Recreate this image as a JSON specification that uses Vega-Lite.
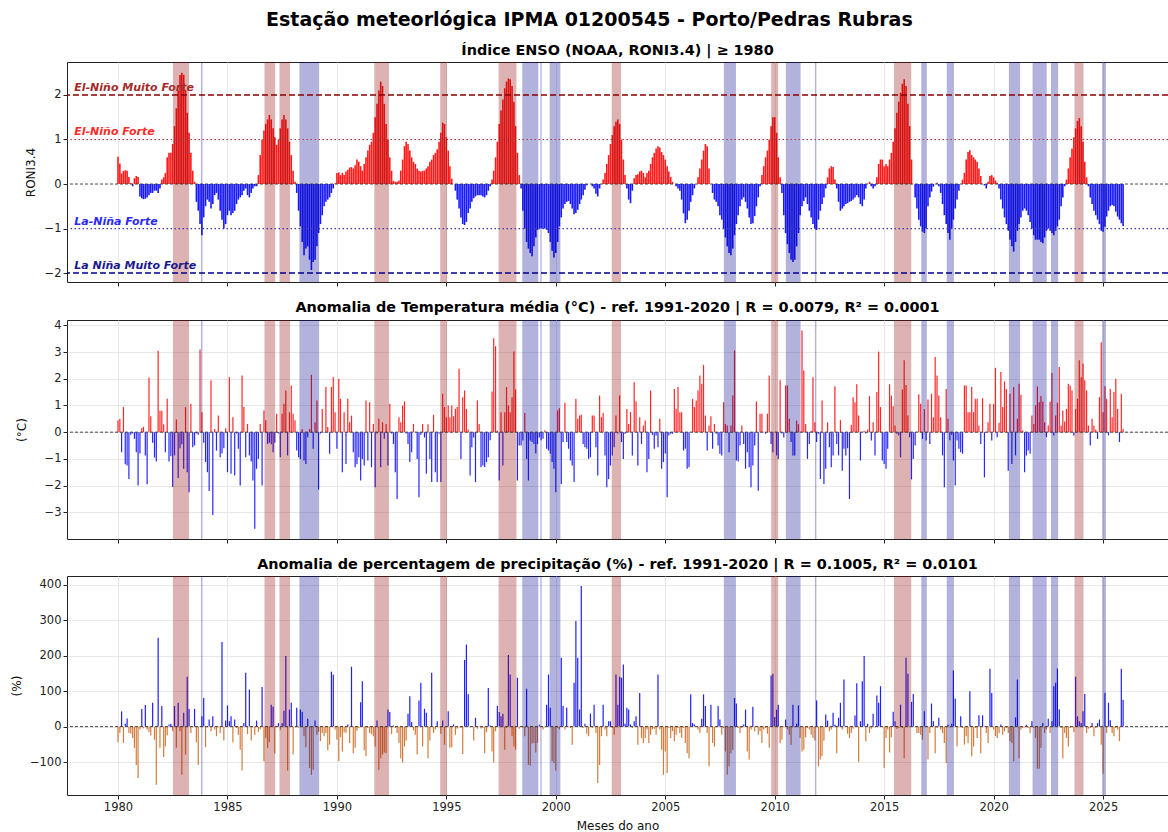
{
"$schema": "https://vega.github.io/schema/vega-lite/v6.json",
"padding": {"left": 9, "top": 11, "right": 0, "bottom": 0},
"background": "white",
"title": {"text": "Estação meteorlógica IPMA 01200545 - Porto/Pedras Rubras", "fontSize": 19, "fontWeight": "bold", "anchor": "middle", "offset": 12, "color": "#000000", "font": "DejaVu Sans"},
"config": {
  "font": "DejaVu Sans",
  "view": {"stroke": "#222222", "strokeWidth": 1},
  "axis": {"domain": false, "tickColor": "#222222", "tickSize": 4, "labelColor": "#222222", "labelFontSize": 11.5, "titleFontWeight": "normal", "titleColor": "#111111", "titleFontSize": 12, "gridColor": "#e2e2e2", "gridWidth": 0.8, "labelFont": "DejaVu Sans", "titleFont": "DejaVu Sans"},
  "title": {"fontSize": 14.4, "fontWeight": "bold", "color": "#000000", "offset": 4, "font": "DejaVu Sans"},
  "concat": {"spacing": 12}
},
"datasets": {
"b": [
{"s":"1982-07-05","f":"1983-04-01","k":"nino"},
{"s":"1983-10-17","f":"1983-11-10","k":"nina"},
{"s":"1986-09-10","f":"1987-03-08","k":"nino"},
{"s":"1987-05-18","f":"1987-11-10","k":"nino"},
{"s":"1988-04-15","f":"1989-03-10","k":"nina"},
{"s":"1991-09-17","f":"1992-05-18","k":"nino"},
{"s":"1994-09-20","f":"1995-01-12","k":"nino"},
{"s":"1997-05-22","f":"1998-03-15","k":"nino"},
{"s":"1998-06-20","f":"1999-03-15","k":"nina"},
{"s":"1999-04-17","f":"1999-05-10","k":"nina"},
{"s":"1999-09-20","f":"2000-03-18","k":"nina"},
{"s":"2002-07-22","f":"2002-12-25","k":"nino"},
{"s":"2007-09-05","f":"2008-03-25","k":"nina"},
{"s":"2009-11-03","f":"2010-02-28","k":"nino"},
{"s":"2010-07-05","f":"2011-03-08","k":"nina"},
{"s":"2011-11-03","f":"2011-11-27","k":"nina"},
{"s":"2015-06-13","f":"2016-03-28","k":"nino"},
{"s":"2016-09-12","f":"2016-12-13","k":"nina"},
{"s":"2017-11-10","f":"2018-03-10","k":"nina"},
{"s":"2020-09-12","f":"2021-03-18","k":"nina"},
{"s":"2021-10-12","f":"2022-06-05","k":"nina"},
{"s":"2022-08-15","f":"2022-12-13","k":"nina"},
{"s":"2023-09-12","f":"2024-02-10","k":"nino"},
{"s":"2024-12-16","f":"2025-02-17","k":"nina"}
],
"m": [
{"d":"1980-01","e":0.61,"t":0.45,"p":-44},{"d":"1980-02","e":0.46,"t":0.5,"p":-18},{"d":"1980-03","e":0.24,"t":-0.75,"p":43},{"d":"1980-04","e":0.29,"t":0.95,"p":-46},{"d":"1980-05","e":0.31,"t":-1.2,"p":8},{"d":"1980-06","e":0.3,"t":-1.25,"p":23},{"d":"1980-07","e":0.16,"t":-1.75,"p":-18},{"d":"1980-08","e":0.02,"t":-0.1,"p":-20},{"d":"1980-09","e":-0.05,"t":-0.05,"p":-32},{"d":"1980-10","e":0.13,"t":-0.25,"p":-60},{"d":"1980-11","e":0.18,"t":-0.75,"p":-108},{"d":"1980-12","e":0.16,"t":-2.0,"p":-145},
{"d":"1981-01","e":-0.28,"t":-0.8,"p":-8},{"d":"1981-02","e":-0.32,"t":0.15,"p":50},{"d":"1981-03","e":-0.34,"t":0.2,"p":-5},{"d":"1981-04","e":-0.33,"t":-0.87,"p":61},{"d":"1981-05","e":-0.3,"t":-1.95,"p":-8},{"d":"1981-06","e":-0.25,"t":2.05,"p":-15},{"d":"1981-07","e":-0.2,"t":0.6,"p":-25},{"d":"1981-08","e":-0.2,"t":-0.4,"p":67},{"d":"1981-09","e":-0.15,"t":-0.95,"p":-37},{"d":"1981-10","e":-0.15,"t":-1.1,"p":-164},{"d":"1981-11","e":-0.2,"t":3.05,"p":251},{"d":"1981-12","e":-0.1,"t":0.8,"p":-60},
{"d":"1982-01","e":0.1,"t":0.8,"p":58},{"d":"1982-02","e":0.15,"t":0.3,"p":-86},{"d":"1982-03","e":0.25,"t":-0.75,"p":-56},{"d":"1982-04","e":0.6,"t":1.25,"p":-25},{"d":"1982-05","e":0.7,"t":-1.1,"p":6},{"d":"1982-06","e":0.7,"t":-0.9,"p":8},{"d":"1982-07","e":0.9,"t":-2.05,"p":-13},{"d":"1982-08","e":1.3,"t":-0.87,"p":58},{"d":"1982-09","e":1.7,"t":0.47,"p":-60},{"d":"1982-10","e":2.1,"t":-1.72,"p":67},{"d":"1982-11","e":2.45,"t":-0.6,"p":-13},{"d":"1982-12","e":2.5,"t":-0.45,"p":-136},
{"d":"1983-01","e":2.45,"t":-1.37,"p":39},{"d":"1983-02","e":2.1,"t":0.94,"p":-79},{"d":"1983-03","e":1.6,"t":-1.5,"p":141},{"d":"1983-04","e":1.15,"t":-2.25,"p":50},{"d":"1983-05","e":0.7,"t":1.06,"p":-18},{"d":"1983-06","e":0.3,"t":-0.56,"p":-2},{"d":"1983-07","e":0.05,"t":-0.5,"p":50},{"d":"1983-08","e":-0.4,"t":-0.05,"p":-44},{"d":"1983-09","e":-0.6,"t":-0.1,"p":-108},{"d":"1983-10","e":-0.9,"t":3.1,"p":2},{"d":"1983-11","e":-1.15,"t":0.75,"p":29},{"d":"1983-12","e":-0.75,"t":-0.4,"p":81},
{"d":"1984-01","e":-0.5,"t":-1.12,"p":-58},{"d":"1984-02","e":-0.35,"t":-1.5,"p":-2},{"d":"1984-03","e":-0.4,"t":-2.2,"p":20},{"d":"1984-04","e":-0.55,"t":1.94,"p":-13},{"d":"1984-05","e":-0.45,"t":-3.1,"p":29},{"d":"1984-06","e":-0.25,"t":0.12,"p":-8},{"d":"1984-07","e":-0.2,"t":-0.69,"p":-27},{"d":"1984-08","e":-0.35,"t":0.62,"p":-2},{"d":"1984-09","e":-0.6,"t":-0.94,"p":-18},{"d":"1984-10","e":-0.8,"t":-0.8,"p":239},{"d":"1984-11","e":-1.0,"t":-0.6,"p":-39},{"d":"1984-12","e":-0.9,"t":0.15,"p":17},
{"d":"1985-01","e":-0.7,"t":-1.5,"p":60},{"d":"1985-02","e":-0.6,"t":2.06,"p":15},{"d":"1985-03","e":-0.7,"t":-1.56,"p":29},{"d":"1985-04","e":-0.65,"t":0.56,"p":-44},{"d":"1985-05","e":-0.6,"t":-1.62,"p":20},{"d":"1985-06","e":-0.45,"t":-0.05,"p":-4},{"d":"1985-07","e":-0.35,"t":-0.62,"p":-23},{"d":"1985-08","e":-0.3,"t":-2.0,"p":-65},{"d":"1985-09","e":-0.25,"t":2.12,"p":-124},{"d":"1985-10","e":-0.15,"t":0.94,"p":10},{"d":"1985-11","e":-0.1,"t":-0.94,"p":152},{"d":"1985-12","e":-0.25,"t":0.31,"p":-21},
{"d":"1986-01","e":-0.3,"t":-0.87,"p":105},{"d":"1986-02","e":-0.2,"t":-1.1,"p":-39},{"d":"1986-03","e":-0.1,"t":-1.81,"p":-2},{"d":"1986-04","e":-0.05,"t":-3.62,"p":-23},{"d":"1986-05","e":-0.05,"t":-1.37,"p":17},{"d":"1986-06","e":0.2,"t":-1.0,"p":-15},{"d":"1986-07","e":0.65,"t":0.31,"p":-8},{"d":"1986-08","e":1.0,"t":-2.0,"p":112},{"d":"1986-09","e":1.2,"t":0.81,"p":-98},{"d":"1986-10","e":1.35,"t":0.45,"p":-32},{"d":"1986-11","e":1.45,"t":-0.44,"p":-60},{"d":"1986-12","e":1.55,"t":-0.4,"p":-44},
{"d":"1987-01","e":1.45,"t":-0.45,"p":62},{"d":"1987-02","e":1.25,"t":-0.75,"p":56},{"d":"1987-03","e":1.05,"t":-0.4,"p":-76},{"d":"1987-04","e":0.88,"t":0.69,"p":-2},{"d":"1987-05","e":1.0,"t":-0.05,"p":10},{"d":"1987-06","e":1.25,"t":-0.94,"p":-10},{"d":"1987-07","e":1.45,"t":0.69,"p":10},{"d":"1987-08","e":1.55,"t":1.06,"p":45},{"d":"1987-09","e":1.45,"t":1.56,"p":199},{"d":"1987-10","e":1.25,"t":-0.87,"p":-124},{"d":"1987-11","e":0.95,"t":0.75,"p":48},{"d":"1987-12","e":0.65,"t":1.75,"p":67},
{"d":"1988-01","e":0.3,"t":0.69,"p":-79},{"d":"1988-02","e":0.05,"t":0.45,"p":-2},{"d":"1988-03","e":-0.2,"t":-0.69,"p":53},{"d":"1988-04","e":-0.6,"t":-0.94,"p":-3},{"d":"1988-05","e":-0.95,"t":-1.0,"p":48},{"d":"1988-06","e":-1.3,"t":0.12,"p":42},{"d":"1988-07","e":-1.6,"t":-1.06,"p":-27},{"d":"1988-08","e":-1.45,"t":-1.19,"p":-58},{"d":"1988-09","e":-1.4,"t":-0.19,"p":22},{"d":"1988-10","e":-1.7,"t":0.12,"p":-117},{"d":"1988-11","e":-1.93,"t":2.15,"p":-136},{"d":"1988-12","e":-1.75,"t":-0.62,"p":-122},
{"d":"1989-01","e":-1.7,"t":0.37,"p":17},{"d":"1989-02","e":-1.4,"t":1.19,"p":-23},{"d":"1989-03","e":-1.1,"t":-2.15,"p":-15},{"d":"1989-04","e":-0.9,"t":-0.05,"p":-41},{"d":"1989-05","e":-0.7,"t":0.87,"p":-18},{"d":"1989-06","e":-0.5,"t":-0.02,"p":-27},{"d":"1989-07","e":-0.4,"t":1.69,"p":-18},{"d":"1989-08","e":-0.35,"t":0.19,"p":-67},{"d":"1989-09","e":-0.3,"t":-0.81,"p":-51},{"d":"1989-10","e":-0.2,"t":1.69,"p":155},{"d":"1989-11","e":-0.1,"t":2.06,"p":147},{"d":"1989-12","e":0.02,"t":0.75,"p":-8},
{"d":"1990-01","e":0.25,"t":-0.62,"p":-37},{"d":"1990-02","e":0.26,"t":2.0,"p":-98},{"d":"1990-03","e":0.2,"t":1.25,"p":-30},{"d":"1990-04","e":0.25,"t":-1.5,"p":-70},{"d":"1990-05","e":0.2,"t":0.75,"p":-16},{"d":"1990-06","e":0.28,"t":-1.19,"p":-18},{"d":"1990-07","e":0.32,"t":1.25,"p":6},{"d":"1990-08","e":0.37,"t":0.37,"p":-46},{"d":"1990-09","e":0.38,"t":0.62,"p":169},{"d":"1990-10","e":0.35,"t":-0.75,"p":-75},{"d":"1990-11","e":0.42,"t":-1.31,"p":-60},{"d":"1990-12","e":0.55,"t":-1.2,"p":-12},
{"d":"1991-01","e":0.5,"t":-0.94,"p":-4},{"d":"1991-02","e":0.4,"t":-1.81,"p":69},{"d":"1991-03","e":0.3,"t":-1.0,"p":128},{"d":"1991-04","e":0.45,"t":-1.25,"p":-67},{"d":"1991-05","e":0.6,"t":1.19,"p":-84},{"d":"1991-06","e":0.75,"t":-1.06,"p":-4},{"d":"1991-07","e":0.88,"t":1.12,"p":-18},{"d":"1991-08","e":0.95,"t":-1.31,"p":-21},{"d":"1991-09","e":1.15,"t":0.31,"p":-27},{"d":"1991-10","e":1.5,"t":-2.06,"p":-56},{"d":"1991-11","e":1.8,"t":-0.05,"p":17},{"d":"1991-12","e":2.1,"t":0.5,"p":-122},
{"d":"1992-01","e":2.3,"t":-1.31,"p":-89},{"d":"1992-02","e":2.2,"t":0.37,"p":-79},{"d":"1992-03","e":1.8,"t":-0.25,"p":-73},{"d":"1992-04","e":1.35,"t":0.31,"p":-75},{"d":"1992-05","e":1.0,"t":-1.25,"p":48},{"d":"1992-06","e":0.6,"t":1.06,"p":41},{"d":"1992-07","e":0.3,"t":-0.05,"p":-21},{"d":"1992-08","e":0.07,"t":-0.44,"p":3},{"d":"1992-09","e":0.05,"t":-1.5,"p":-4},{"d":"1992-10","e":0.05,"t":-2.5,"p":-18},{"d":"1992-11","e":0.08,"t":0.56,"p":-46},{"d":"1992-12","e":0.3,"t":0.37,"p":-89},
{"d":"1993-01","e":0.55,"t":1.0,"p":-101},{"d":"1993-02","e":0.85,"t":1.15,"p":-56},{"d":"1993-03","e":0.95,"t":-0.05,"p":-39},{"d":"1993-04","e":0.9,"t":-0.44,"p":36},{"d":"1993-05","e":0.75,"t":-1.12,"p":86},{"d":"1993-06","e":0.6,"t":-0.75,"p":12},{"d":"1993-07","e":0.5,"t":0.31,"p":-11},{"d":"1993-08","e":0.45,"t":0.02,"p":-23},{"d":"1993-09","e":0.35,"t":-1.0,"p":-79},{"d":"1993-10","e":0.3,"t":-2.44,"p":74},{"d":"1993-11","e":0.28,"t":-0.1,"p":124},{"d":"1993-12","e":0.3,"t":0.31,"p":-56},
{"d":"1994-01","e":0.3,"t":-0.2,"p":50},{"d":"1994-02","e":0.35,"t":-1.56,"p":39},{"d":"1994-03","e":0.4,"t":0.3,"p":-89},{"d":"1994-04","e":0.5,"t":-1.0,"p":-39},{"d":"1994-05","e":0.55,"t":-1.87,"p":152},{"d":"1994-06","e":0.65,"t":0.65,"p":-18},{"d":"1994-07","e":0.7,"t":-1.5,"p":-8},{"d":"1994-08","e":0.78,"t":-1.87,"p":15},{"d":"1994-09","e":0.95,"t":-0.06,"p":-2},{"d":"1994-10","e":1.15,"t":-1.87,"p":-20},{"d":"1994-11","e":1.38,"t":1.44,"p":17},{"d":"1994-12","e":1.35,"t":0.94,"p":-51},
{"d":"1995-01","e":1.05,"t":0.56,"p":-2},{"d":"1995-02","e":0.75,"t":1.0,"p":43},{"d":"1995-03","e":0.4,"t":0.56,"p":-60},{"d":"1995-04","e":0.12,"t":1.0,"p":-58},{"d":"1995-05","e":0.0,"t":0.6,"p":6},{"d":"1995-06","e":-0.15,"t":0.87,"p":-23},{"d":"1995-07","e":-0.35,"t":0.94,"p":-6},{"d":"1995-08","e":-0.55,"t":2.37,"p":-2},{"d":"1995-09","e":-0.75,"t":-1.0,"p":-4},{"d":"1995-10","e":-0.9,"t":1.31,"p":-77},{"d":"1995-11","e":-0.92,"t":1.56,"p":188},{"d":"1995-12","e":-0.85,"t":0.87,"p":232},
{"d":"1996-01","e":-0.65,"t":0.1,"p":91},{"d":"1996-02","e":-0.55,"t":-1.62,"p":-2},{"d":"1996-03","e":-0.4,"t":-0.56,"p":1},{"d":"1996-04","e":-0.32,"t":-0.2,"p":-39},{"d":"1996-05","e":-0.28,"t":-1.87,"p":25},{"d":"1996-06","e":-0.25,"t":1.19,"p":-6},{"d":"1996-07","e":-0.25,"t":0.31,"p":1},{"d":"1996-08","e":-0.25,"t":-1.31,"p":-5},{"d":"1996-09","e":-0.28,"t":-1.25,"p":-4},{"d":"1996-10","e":-0.3,"t":-1.3,"p":-75},{"d":"1996-11","e":-0.25,"t":-1.12,"p":-16},{"d":"1996-12","e":-0.15,"t":-0.94,"p":109},
{"d":"1997-01","e":-0.05,"t":-0.3,"p":3},{"d":"1997-02","e":0.1,"t":1.52,"p":-70},{"d":"1997-03","e":0.3,"t":3.52,"p":-101},{"d":"1997-04","e":0.6,"t":3.22,"p":-13},{"d":"1997-05","e":0.95,"t":0.05,"p":59},{"d":"1997-06","e":1.35,"t":-1.81,"p":41},{"d":"1997-07","e":1.65,"t":0.75,"p":29},{"d":"1997-08","e":1.9,"t":-1.25,"p":36},{"d":"1997-09","e":2.15,"t":0.75,"p":-65},{"d":"1997-10","e":2.3,"t":1.69,"p":-4},{"d":"1997-11","e":2.37,"t":1.0,"p":202},{"d":"1997-12","e":2.35,"t":0.75,"p":147},
{"d":"1998-01","e":2.2,"t":1.31,"p":-27},{"d":"1998-02","e":1.85,"t":3.02,"p":-56},{"d":"1998-03","e":1.3,"t":1.6,"p":-65},{"d":"1998-04","e":0.7,"t":-1.81,"p":138},{"d":"1998-05","e":0.2,"t":-0.5,"p":-6},{"d":"1998-06","e":-0.1,"t":-0.5,"p":-1},{"d":"1998-07","e":-0.6,"t":-0.31,"p":-3},{"d":"1998-08","e":-1.0,"t":0.72,"p":-27},{"d":"1998-09","e":-1.3,"t":-1.0,"p":107},{"d":"1998-10","e":-1.45,"t":-1.81,"p":-108},{"d":"1998-11","e":-1.55,"t":-0.31,"p":-110},{"d":"1998-12","e":-1.62,"t":-0.37,"p":-48},
{"d":"1999-01","e":-1.4,"t":-0.44,"p":-46},{"d":"1999-02","e":-1.2,"t":-0.8,"p":-73},{"d":"1999-03","e":-1.03,"t":-0.45,"p":-46},{"d":"1999-04","e":-1.0,"t":-0.2,"p":5},{"d":"1999-05","e":-1.0,"t":-0.3,"p":-1},{"d":"1999-06","e":-1.0,"t":-0.25,"p":-8},{"d":"1999-07","e":-1.0,"t":0.06,"p":-2},{"d":"1999-08","e":-1.03,"t":-0.62,"p":62},{"d":"1999-09","e":-1.1,"t":-0.69,"p":147},{"d":"1999-10","e":-1.3,"t":-0.81,"p":53},{"d":"1999-11","e":-1.5,"t":-1.12,"p":-98},{"d":"1999-12","e":-1.65,"t":-1.37,"p":-103},
{"d":"2000-01","e":-1.55,"t":-2.25,"p":-124},{"d":"2000-02","e":-1.3,"t":0.81,"p":-4},{"d":"2000-03","e":-0.95,"t":0.9,"p":-8},{"d":"2000-04","e":-0.75,"t":-1.94,"p":194},{"d":"2000-05","e":-0.55,"t":-0.37,"p":58},{"d":"2000-06","e":-0.45,"t":1.1,"p":-8},{"d":"2000-07","e":-0.4,"t":-0.37,"p":53},{"d":"2000-08","e":-0.38,"t":-0.62,"p":1},{"d":"2000-09","e":-0.45,"t":-1.06,"p":-4},{"d":"2000-10","e":-0.55,"t":-1.25,"p":-51},{"d":"2000-11","e":-0.68,"t":-1.87,"p":124},{"d":"2000-12","e":-0.65,"t":1.25,"p":298},
{"d":"2001-01","e":-0.58,"t":0.5,"p":194},{"d":"2001-02","e":-0.45,"t":0.62,"p":48},{"d":"2001-03","e":-0.35,"t":0.65,"p":397},{"d":"2001-04","e":-0.25,"t":-0.44,"p":-4},{"d":"2001-05","e":-0.13,"t":-0.56,"p":8},{"d":"2001-06","e":-0.03,"t":-0.62,"p":-20},{"d":"2001-07","e":0.0,"t":-1.0,"p":-27},{"d":"2001-08","e":0.0,"t":-0.94,"p":37},{"d":"2001-09","e":-0.05,"t":0.62,"p":-4},{"d":"2001-10","e":-0.1,"t":0.62,"p":62},{"d":"2001-11","e":-0.22,"t":-0.56,"p":-18},{"d":"2001-12","e":-0.28,"t":-1.62,"p":-159},
{"d":"2002-01","e":-0.1,"t":1.37,"p":-108},{"d":"2002-02","e":0.0,"t":0.56,"p":-27},{"d":"2002-03","e":0.1,"t":0.72,"p":62},{"d":"2002-04","e":0.25,"t":-0.87,"p":-8},{"d":"2002-05","e":0.45,"t":-2.06,"p":-27},{"d":"2002-06","e":0.65,"t":-1.75,"p":15},{"d":"2002-07","e":0.9,"t":-1.25,"p":15},{"d":"2002-08","e":1.1,"t":-0.87,"p":-4},{"d":"2002-09","e":1.3,"t":-0.56,"p":-23},{"d":"2002-10","e":1.4,"t":0.62,"p":147},{"d":"2002-11","e":1.45,"t":-0.05,"p":62},{"d":"2002-12","e":1.35,"t":1.37,"p":141},
{"d":"2003-01","e":1.0,"t":-0.37,"p":138},{"d":"2003-02","e":0.55,"t":-1.0,"p":175},{"d":"2003-03","e":0.2,"t":-0.06,"p":8},{"d":"2003-04","e":-0.1,"t":0.87,"p":53},{"d":"2003-05","e":-0.35,"t":0.31,"p":48},{"d":"2003-06","e":-0.43,"t":0.75,"p":6},{"d":"2003-07","e":-0.15,"t":-0.87,"p":-4},{"d":"2003-08","e":0.13,"t":1.87,"p":15},{"d":"2003-09","e":0.2,"t":1.15,"p":29},{"d":"2003-10","e":0.22,"t":-1.25,"p":-51},{"d":"2003-11","e":0.28,"t":0.56,"p":95},{"d":"2003-12","e":0.3,"t":-0.44,"p":-32},
{"d":"2004-01","e":0.25,"t":0.25,"p":-46},{"d":"2004-02","e":0.15,"t":0.44,"p":-32},{"d":"2004-03","e":0.25,"t":-1.5,"p":-8},{"d":"2004-04","e":0.3,"t":-1.0,"p":-46},{"d":"2004-05","e":0.45,"t":1.56,"p":-23},{"d":"2004-06","e":0.6,"t":-0.1,"p":-8},{"d":"2004-07","e":0.7,"t":-0.62,"p":-6},{"d":"2004-08","e":0.8,"t":-0.12,"p":-23},{"d":"2004-09","e":0.85,"t":-0.56,"p":147},{"d":"2004-10","e":0.82,"t":0.5,"p":-8},{"d":"2004-11","e":0.72,"t":-1.37,"p":-65},{"d":"2004-12","e":0.65,"t":-1.12,"p":-136},
{"d":"2005-01","e":0.55,"t":-0.8,"p":-70},{"d":"2005-02","e":0.4,"t":-2.44,"p":-131},{"d":"2005-03","e":0.28,"t":-0.12,"p":-4},{"d":"2005-04","e":0.16,"t":-0.06,"p":-32},{"d":"2005-05","e":0.05,"t":-0.06,"p":-13},{"d":"2005-06","e":0.0,"t":1.62,"p":-41},{"d":"2005-07","e":-0.05,"t":0.87,"p":-23},{"d":"2005-08","e":-0.1,"t":1.69,"p":-4},{"d":"2005-09","e":-0.15,"t":0.75,"p":-18},{"d":"2005-10","e":-0.35,"t":0.75,"p":-32},{"d":"2005-11","e":-0.66,"t":-0.69,"p":-4},{"d":"2005-12","e":-0.88,"t":-0.62,"p":-46},
{"d":"2006-01","e":-0.8,"t":-1.37,"p":-75},{"d":"2006-02","e":-0.6,"t":-1.31,"p":-89},{"d":"2006-03","e":-0.4,"t":0.02,"p":91},{"d":"2006-04","e":-0.25,"t":1.25,"p":10},{"d":"2006-05","e":-0.1,"t":0.94,"p":6},{"d":"2006-06","e":0.0,"t":1.19,"p":0},{"d":"2006-07","e":0.15,"t":1.56,"p":-8},{"d":"2006-08","e":0.35,"t":2.12,"p":-18},{"d":"2006-09","e":0.55,"t":1.81,"p":22},{"d":"2006-10","e":0.75,"t":2.52,"p":91},{"d":"2006-11","e":0.9,"t":0.62,"p":58},{"d":"2006-12","e":0.85,"t":-0.69,"p":-18},
{"d":"2007-01","e":0.35,"t":0.25,"p":-112},{"d":"2007-02","e":0.0,"t":0.6,"p":62},{"d":"2007-03","e":-0.2,"t":-0.62,"p":-46},{"d":"2007-04","e":-0.35,"t":0.31,"p":-56},{"d":"2007-05","e":-0.4,"t":-0.06,"p":-2},{"d":"2007-06","e":-0.5,"t":-0.5,"p":58},{"d":"2007-07","e":-0.7,"t":-0.81,"p":20},{"d":"2007-08","e":-0.8,"t":-0.87,"p":-23},{"d":"2007-09","e":-1.0,"t":1.12,"p":-4},{"d":"2007-10","e":-1.2,"t":0.31,"p":-70},{"d":"2007-11","e":-1.4,"t":0.25,"p":-136},{"d":"2007-12","e":-1.55,"t":-0.75,"p":-112},
{"d":"2008-01","e":-1.6,"t":0.25,"p":-75},{"d":"2008-02","e":-1.45,"t":1.37,"p":-65},{"d":"2008-03","e":-1.15,"t":3.06,"p":81},{"d":"2008-04","e":-0.9,"t":-1.06,"p":65},{"d":"2008-05","e":-0.7,"t":-1.1,"p":-4},{"d":"2008-06","e":-0.5,"t":-0.5,"p":-18},{"d":"2008-07","e":-0.35,"t":0.25,"p":-4},{"d":"2008-08","e":-0.3,"t":-0.44,"p":6},{"d":"2008-09","e":-0.4,"t":-1.37,"p":48},{"d":"2008-10","e":-0.55,"t":-0.75,"p":-70},{"d":"2008-11","e":-0.75,"t":-1.31,"p":-93},{"d":"2008-12","e":-0.9,"t":-2.06,"p":-8},
{"d":"2009-01","e":-0.88,"t":-1.25,"p":56},{"d":"2009-02","e":-0.72,"t":-0.5,"p":-13},{"d":"2009-03","e":-0.5,"t":1.15,"p":-1},{"d":"2009-04","e":-0.3,"t":-2.19,"p":-23},{"d":"2009-05","e":-0.05,"t":0.69,"p":-13},{"d":"2009-06","e":0.2,"t":0.69,"p":-46},{"d":"2009-07","e":0.4,"t":0.02,"p":-8},{"d":"2009-08","e":0.6,"t":-0.06,"p":-4},{"d":"2009-09","e":0.75,"t":0.69,"p":-20},{"d":"2009-10","e":1.0,"t":2.12,"p":-60},{"d":"2009-11","e":1.3,"t":-0.44,"p":144},{"d":"2009-12","e":1.5,"t":-0.75,"p":149},
{"d":"2010-01","e":1.5,"t":0.02,"p":27},{"d":"2010-02","e":1.15,"t":-0.87,"p":48},{"d":"2010-03","e":0.6,"t":-1.0,"p":62},{"d":"2010-04","e":0.15,"t":1.94,"p":-46},{"d":"2010-05","e":-0.2,"t":-0.05,"p":-37},{"d":"2010-06","e":-0.7,"t":-0.2,"p":-2},{"d":"2010-07","e":-1.1,"t":1.75,"p":20},{"d":"2010-08","e":-1.35,"t":1.75,"p":-8},{"d":"2010-09","e":-1.55,"t":0.5,"p":-23},{"d":"2010-10","e":-1.7,"t":-0.37,"p":-51},{"d":"2010-11","e":-1.75,"t":-0.87,"p":62},{"d":"2010-12","e":-1.7,"t":-0.87,"p":-2},
{"d":"2011-01","e":-1.4,"t":0.44,"p":8},{"d":"2011-02","e":-1.1,"t":0.3,"p":60},{"d":"2011-03","e":-0.7,"t":0.02,"p":-32},{"d":"2011-04","e":-0.5,"t":3.81,"p":-70},{"d":"2011-05","e":-0.38,"t":2.31,"p":-65},{"d":"2011-06","e":-0.3,"t":0.31,"p":-30},{"d":"2011-07","e":-0.45,"t":-1.0,"p":-4},{"d":"2011-08","e":-0.6,"t":-0.44,"p":-8},{"d":"2011-09","e":-0.75,"t":0.05,"p":-23},{"d":"2011-10","e":-0.9,"t":2.06,"p":-32},{"d":"2011-11","e":-1.0,"t":0.37,"p":-39},{"d":"2011-12","e":-1.03,"t":-0.37,"p":74},
{"d":"2012-01","e":-0.8,"t":-0.06,"p":-112},{"d":"2012-02","e":-0.6,"t":-1.75,"p":-93},{"d":"2012-03","e":-0.45,"t":1.19,"p":-84},{"d":"2012-04","e":-0.3,"t":-1.94,"p":-40},{"d":"2012-05","e":-0.1,"t":-1.37,"p":34},{"d":"2012-06","e":0.15,"t":0.37,"p":17},{"d":"2012-07","e":0.35,"t":-0.56,"p":-13},{"d":"2012-08","e":0.4,"t":-1.31,"p":-8},{"d":"2012-09","e":0.38,"t":-0.87,"p":39},{"d":"2012-10","e":0.1,"t":1.72,"p":5},{"d":"2012-11","e":-0.1,"t":-0.44,"p":-75},{"d":"2012-12","e":-0.4,"t":-0.87,"p":25},
{"d":"2013-01","e":-0.6,"t":0.45,"p":67},{"d":"2013-02","e":-0.55,"t":-1.44,"p":-8},{"d":"2013-03","e":-0.5,"t":-0.62,"p":133},{"d":"2013-04","e":-0.45,"t":-0.87,"p":1},{"d":"2013-05","e":-0.43,"t":-0.6,"p":-20},{"d":"2013-06","e":-0.4,"t":-2.5,"p":-32},{"d":"2013-07","e":-0.38,"t":0.27,"p":-18},{"d":"2013-08","e":-0.35,"t":1.31,"p":-6},{"d":"2013-09","e":-0.3,"t":1.12,"p":31},{"d":"2013-10","e":-0.25,"t":1.79,"p":122},{"d":"2013-11","e":-0.3,"t":0.62,"p":-100},{"d":"2013-12","e":-0.45,"t":-1.06,"p":15},
{"d":"2014-01","e":-0.5,"t":0.02,"p":128},{"d":"2014-02","e":-0.35,"t":0.05,"p":199},{"d":"2014-03","e":-0.1,"t":-0.05,"p":-41},{"d":"2014-04","e":0.0,"t":0.1,"p":8},{"d":"2014-05","e":0.05,"t":1.35,"p":-18},{"d":"2014-06","e":-0.05,"t":-0.31,"p":-6},{"d":"2014-07","e":-0.1,"t":0.37,"p":36},{"d":"2014-08","e":-0.05,"t":-0.87,"p":-2},{"d":"2014-09","e":0.15,"t":1.5,"p":88},{"d":"2014-10","e":0.45,"t":3.02,"p":67},{"d":"2014-11","e":0.55,"t":0.94,"p":114},{"d":"2014-12","e":0.55,"t":-1.06,"p":-2},
{"d":"2015-01","e":0.4,"t":-1.19,"p":-117},{"d":"2015-02","e":0.45,"t":-1.37,"p":-32},{"d":"2015-03","e":0.4,"t":-0.62,"p":-8},{"d":"2015-04","e":0.55,"t":1.79,"p":-73},{"d":"2015-05","e":0.7,"t":1.37,"p":-30},{"d":"2015-06","e":0.95,"t":0.97,"p":42},{"d":"2015-07","e":1.25,"t":0.25,"p":15},{"d":"2015-08","e":1.6,"t":-0.06,"p":-6},{"d":"2015-09","e":1.85,"t":-0.12,"p":-4},{"d":"2015-10","e":2.05,"t":-0.94,"p":62},{"d":"2015-11","e":2.25,"t":1.6,"p":-4},{"d":"2015-12","e":2.35,"t":2.69,"p":-89},
{"d":"2016-01","e":2.2,"t":1.77,"p":194},{"d":"2016-02","e":1.8,"t":0.62,"p":149},{"d":"2016-03","e":1.3,"t":-0.19,"p":-1},{"d":"2016-04","e":0.55,"t":-1.77,"p":70},{"d":"2016-05","e":0.0,"t":-1.0,"p":92},{"d":"2016-06","e":-0.3,"t":-0.5,"p":-1},{"d":"2016-07","e":-0.55,"t":0.02,"p":-18},{"d":"2016-08","e":-0.8,"t":1.42,"p":-18},{"d":"2016-09","e":-0.95,"t":1.06,"p":-23},{"d":"2016-10","e":-1.07,"t":-0.25,"p":-37},{"d":"2016-11","e":-1.1,"t":0.87,"p":43},{"d":"2016-12","e":-1.0,"t":-0.31,"p":-1},
{"d":"2017-01","e":-0.5,"t":1.22,"p":-93},{"d":"2017-02","e":-0.3,"t":-0.44,"p":-18},{"d":"2017-03","e":-0.17,"t":1.44,"p":65},{"d":"2017-04","e":-0.06,"t":0.56,"p":15},{"d":"2017-05","e":0.0,"t":2.81,"p":-75},{"d":"2017-06","e":0.03,"t":2.12,"p":-4},{"d":"2017-07","e":-0.05,"t":1.37,"p":25},{"d":"2017-08","e":-0.2,"t":0.56,"p":-8},{"d":"2017-09","e":-0.45,"t":-0.87,"p":-18},{"d":"2017-10","e":-0.7,"t":-2.06,"p":-46},{"d":"2017-11","e":-0.9,"t":1.62,"p":-103},{"d":"2017-12","e":-1.1,"t":0.5,"p":5},
{"d":"2018-01","e":-1.25,"t":-0.3,"p":-2},{"d":"2018-02","e":-1.0,"t":-0.1,"p":8},{"d":"2018-03","e":-0.8,"t":-1.06,"p":158},{"d":"2018-04","e":-0.55,"t":-2.0,"p":79},{"d":"2018-05","e":-0.35,"t":-0.31,"p":-56},{"d":"2018-06","e":-0.15,"t":-0.62,"p":-2},{"d":"2018-07","e":0.0,"t":-0.75,"p":29},{"d":"2018-08","e":0.1,"t":-0.81,"p":-4},{"d":"2018-09","e":0.25,"t":1.75,"p":-51},{"d":"2018-10","e":0.55,"t":1.75,"p":-27},{"d":"2018-11","e":0.72,"t":0.75,"p":-46},{"d":"2018-12","e":0.76,"t":0.75,"p":100},
{"d":"2019-01","e":0.65,"t":1.69,"p":-84},{"d":"2019-02","e":0.6,"t":0.75,"p":-56},{"d":"2019-03","e":0.55,"t":1.25,"p":-4},{"d":"2019-04","e":0.5,"t":1.25,"p":-32},{"d":"2019-05","e":0.35,"t":0.25,"p":32},{"d":"2019-06","e":0.18,"t":-0.44,"p":-75},{"d":"2019-07","e":0.0,"t":1.27,"p":32},{"d":"2019-08","e":-0.03,"t":-1.69,"p":1},{"d":"2019-09","e":-0.1,"t":0.02,"p":-18},{"d":"2019-10","e":0.05,"t":0.37,"p":-46},{"d":"2019-11","e":0.18,"t":1.06,"p":163},{"d":"2019-12","e":0.2,"t":-0.31,"p":95},
{"d":"2020-01","e":0.15,"t":1.06,"p":-8},{"d":"2020-02","e":0.08,"t":2.41,"p":-27},{"d":"2020-03","e":0.03,"t":-0.19,"p":-32},{"d":"2020-04","e":-0.1,"t":0.35,"p":-18},{"d":"2020-05","e":-0.35,"t":2.25,"p":6},{"d":"2020-06","e":-0.55,"t":0.94,"p":-23},{"d":"2020-07","e":-0.75,"t":1.9,"p":-13},{"d":"2020-08","e":-0.9,"t":1.62,"p":-4},{"d":"2020-09","e":-1.05,"t":-1.44,"p":-18},{"d":"2020-10","e":-1.25,"t":1.44,"p":-41},{"d":"2020-11","e":-1.4,"t":-1.19,"p":-46},{"d":"2020-12","e":-1.52,"t":1.69,"p":-98},
{"d":"2021-01","e":-1.3,"t":-0.87,"p":26},{"d":"2021-02","e":-1.05,"t":0.5,"p":133},{"d":"2021-03","e":-0.9,"t":1.81,"p":-89},{"d":"2021-04","e":-0.75,"t":1.4,"p":-8},{"d":"2021-05","e":-0.6,"t":0.06,"p":-4},{"d":"2021-06","e":-0.55,"t":-1.5,"p":-2},{"d":"2021-07","e":-0.6,"t":-0.87,"p":5},{"d":"2021-08","e":-0.7,"t":-0.69,"p":-4},{"d":"2021-09","e":-0.85,"t":-0.81,"p":-18},{"d":"2021-10","e":-1.0,"t":0.62,"p":15},{"d":"2021-11","e":-1.15,"t":0.31,"p":-4},{"d":"2021-12","e":-1.25,"t":1.0,"p":-32},
{"d":"2022-01","e":-1.25,"t":1.71,"p":-119},{"d":"2022-02","e":-1.25,"t":1.12,"p":-119},{"d":"2022-03","e":-1.3,"t":1.35,"p":-60},{"d":"2022-04","e":-1.33,"t":1.15,"p":10},{"d":"2022-05","e":-1.2,"t":0.37,"p":-18},{"d":"2022-06","e":-1.05,"t":-0.19,"p":-8},{"d":"2022-07","e":-1.0,"t":0.25,"p":22},{"d":"2022-08","e":-1.05,"t":1.15,"p":-18},{"d":"2022-09","e":-1.1,"t":2.22,"p":15},{"d":"2022-10","e":-1.15,"t":-0.12,"p":114},{"d":"2022-11","e":-1.05,"t":0.62,"p":124},{"d":"2022-12","e":-0.95,"t":1.1,"p":164},
{"d":"2023-01","e":-0.8,"t":2.44,"p":48},{"d":"2023-02","e":-0.5,"t":0.25,"p":-4},{"d":"2023-03","e":-0.3,"t":0.81,"p":-89},{"d":"2023-04","e":-0.05,"t":0.4,"p":-18},{"d":"2023-05","e":0.1,"t":0.87,"p":-32},{"d":"2023-06","e":0.35,"t":1.81,"p":-56},{"d":"2023-07","e":0.6,"t":1.75,"p":-4},{"d":"2023-08","e":0.8,"t":1.56,"p":-1},{"d":"2023-09","e":1.05,"t":-0.12,"p":-16},{"d":"2023-10","e":1.25,"t":0.87,"p":141},{"d":"2023-11","e":1.42,"t":1.25,"p":29},{"d":"2023-12","e":1.48,"t":2.69,"p":15},
{"d":"2024-01","e":1.3,"t":2.06,"p":10},{"d":"2024-02","e":0.95,"t":2.56,"p":43},{"d":"2024-03","e":0.5,"t":1.94,"p":92},{"d":"2024-04","e":0.15,"t":1.56,"p":-18},{"d":"2024-05","e":-0.05,"t":0.25,"p":-6},{"d":"2024-06","e":-0.3,"t":-0.5,"p":-4},{"d":"2024-07","e":-0.45,"t":0.5,"p":10},{"d":"2024-08","e":-0.6,"t":0.25,"p":-27},{"d":"2024-09","e":-0.7,"t":0.1,"p":-4},{"d":"2024-10","e":-0.8,"t":-0.25,"p":10},{"d":"2024-11","e":-0.9,"t":1.31,"p":20},{"d":"2024-12","e":-1.05,"t":3.37,"p":-51},
{"d":"2025-01","e":-1.07,"t":0.75,"p":-133},{"d":"2025-02","e":-0.96,"t":1.72,"p":95},{"d":"2025-03","e":-0.73,"t":1.25,"p":-18},{"d":"2025-04","e":-0.6,"t":-0.12,"p":67},{"d":"2025-05","e":-0.5,"t":1.62,"p":18},{"d":"2025-06","e":-0.47,"t":0.56,"p":-18},{"d":"2025-07","e":-0.5,"t":1.5,"p":-27},{"d":"2025-08","e":-0.62,"t":2.0,"p":-4},{"d":"2025-09","e":-0.73,"t":0.87,"p":-8},{"d":"2025-10","e":-0.8,"t":-0.37,"p":-41},{"d":"2025-11","e":-0.88,"t":1.44,"p":163},{"d":"2025-12","e":-0.94,"t":0.12,"p":76}
]
},
"vconcat": [
{
  "width": 1101, "height": 220,
  "title": {"text": "Índice ENSO (NOAA, RONI3.4) |  ≥  1980"},
  "layer": [
    {"data": {"name": "m"}, "mark": {"type": "bar", "width": 1.6, "opacity": 0.9},
     "encoding": {
       "x": {"field": "d", "type": "temporal", "scale": {"type": "utc", "padding": 0, "domain": [{"year": 1977, "month": 9, "date": 2, "utc": true}, {"year": 2027, "month": 12, "date": 20, "utc": true}]},
             "axis": {"title": null, "labels": false, "grid": true, "values": [{"year":1980,"utc":true},{"year":1985,"utc":true},{"year":1990,"utc":true},{"year":1995,"utc":true},{"year":2000,"utc":true},{"year":2005,"utc":true},{"year":2010,"utc":true},{"year":2015,"utc":true},{"year":2020,"utc":true},{"year":2025,"utc":true}]}},
       "y": {"field": "e", "type": "quantitative", "scale": {"domain": [-2.2, 2.74], "nice": false},
             "axis": {"title": "RONI3.4", "values": [-2, -1, 0, 1, 2], "grid": false, "titlePadding": 2, "minExtent": 28, "maxExtent": 28}},
       "color": {"condition": {"test": "datum.e >= 0", "value": "#ff0000"}, "value": "#0000ff"}
     }},
    {"data": {"name": "b"}, "mark": {"type": "rect", "opacity": 0.3},
     "encoding": {
       "x": {"field": "s", "type": "temporal", "scale": {"type": "utc", "padding": 0, "domain": [{"year": 1977, "month": 9, "date": 2, "utc": true}, {"year": 2027, "month": 12, "date": 20, "utc": true}]},
             "axis": {"title": null, "labels": false, "grid": true, "values": [{"year":1980,"utc":true},{"year":1985,"utc":true},{"year":1990,"utc":true},{"year":1995,"utc":true},{"year":2000,"utc":true},{"year":2005,"utc":true},{"year":2010,"utc":true},{"year":2015,"utc":true},{"year":2020,"utc":true},{"year":2025,"utc":true}]}},
       "x2": {"field": "f"},
       "color": {"field": "k", "type": "nominal", "scale": {"domain": ["nino", "nina"], "range": ["#8b0000", "#00008b"]}, "legend": null}
     }},
    {"data": {"values": [{"v": 0}]}, "mark": {"type": "rule", "color": "#333333", "strokeDash": [3, 2], "strokeWidth": 0.9},
     "encoding": {"y": {"field": "v", "type": "quantitative", "scale": {"domain": [-2.2, 2.74], "nice": false}, "axis": {"title": "RONI3.4", "values": [-2, -1, 0, 1, 2], "grid": false, "titlePadding": 2, "minExtent": 28, "maxExtent": 28}}}},
    {"data": {"values": [{"v": 2}]}, "mark": {"type": "rule", "color": "#8b0000", "strokeDash": [6, 3], "strokeWidth": 1.5},
     "encoding": {"y": {"field": "v", "type": "quantitative", "scale": {"domain": [-2.2, 2.74], "nice": false}, "axis": {"title": "RONI3.4", "values": [-2, -1, 0, 1, 2], "grid": false, "titlePadding": 2, "minExtent": 28, "maxExtent": 28}}}},
    {"data": {"values": [{"v": 1}]}, "mark": {"type": "rule", "color": "#a83c3c", "strokeDash": [1.5, 2.5], "strokeWidth": 1.2},
     "encoding": {"y": {"field": "v", "type": "quantitative", "scale": {"domain": [-2.2, 2.74], "nice": false}, "axis": {"title": "RONI3.4", "values": [-2, -1, 0, 1, 2], "grid": false, "titlePadding": 2, "minExtent": 28, "maxExtent": 28}}}},
    {"data": {"values": [{"v": -1}]}, "mark": {"type": "rule", "color": "#3c3ca8", "strokeDash": [1.5, 2.5], "strokeWidth": 1.2},
     "encoding": {"y": {"field": "v", "type": "quantitative", "scale": {"domain": [-2.2, 2.74], "nice": false}, "axis": {"title": "RONI3.4", "values": [-2, -1, 0, 1, 2], "grid": false, "titlePadding": 2, "minExtent": 28, "maxExtent": 28}}}},
    {"data": {"values": [{"v": -2}]}, "mark": {"type": "rule", "color": "#00008b", "strokeDash": [6, 3], "strokeWidth": 1.5},
     "encoding": {"y": {"field": "v", "type": "quantitative", "scale": {"domain": [-2.2, 2.74], "nice": false}, "axis": {"title": "RONI3.4", "values": [-2, -1, 0, 1, 2], "grid": false, "titlePadding": 2, "minExtent": 28, "maxExtent": 28}}}},
    {"data": {"values": [{"d": "1978-01-01", "v": 2, "l": "El-Niño Muito Forte"}]},
     "mark": {"type": "text", "align": "left", "baseline": "bottom", "dy": -2, "fontSize": 11, "fontStyle": "italic", "fontWeight": "bold", "color": "#a52a2a"},
     "encoding": {
       "x": {"field": "d", "type": "temporal", "scale": {"type": "utc", "padding": 0, "domain": [{"year": 1977, "month": 9, "date": 2, "utc": true}, {"year": 2027, "month": 12, "date": 20, "utc": true}]},
             "axis": {"title": null, "labels": false, "grid": true, "values": [{"year":1980,"utc":true},{"year":1985,"utc":true},{"year":1990,"utc":true},{"year":1995,"utc":true},{"year":2000,"utc":true},{"year":2005,"utc":true},{"year":2010,"utc":true},{"year":2015,"utc":true},{"year":2020,"utc":true},{"year":2025,"utc":true}]}},
       "y": {"field": "v", "type": "quantitative", "scale": {"domain": [-2.2, 2.74], "nice": false}, "axis": {"title": "RONI3.4", "values": [-2, -1, 0, 1, 2], "grid": false, "titlePadding": 2, "minExtent": 28, "maxExtent": 28}},
       "text": {"field": "l"}}},
    {"data": {"values": [{"d": "1978-01-01", "v": 1, "l": "El-Niño Forte"}]},
     "mark": {"type": "text", "align": "left", "baseline": "bottom", "dy": -2, "fontSize": 11, "fontStyle": "italic", "fontWeight": "bold", "color": "#ff2a2a"},
     "encoding": {
       "x": {"field": "d", "type": "temporal", "scale": {"type": "utc", "padding": 0, "domain": [{"year": 1977, "month": 9, "date": 2, "utc": true}, {"year": 2027, "month": 12, "date": 20, "utc": true}]},
             "axis": {"title": null, "labels": false, "grid": true, "values": [{"year":1980,"utc":true},{"year":1985,"utc":true},{"year":1990,"utc":true},{"year":1995,"utc":true},{"year":2000,"utc":true},{"year":2005,"utc":true},{"year":2010,"utc":true},{"year":2015,"utc":true},{"year":2020,"utc":true},{"year":2025,"utc":true}]}},
       "y": {"field": "v", "type": "quantitative", "scale": {"domain": [-2.2, 2.74], "nice": false}, "axis": {"title": "RONI3.4", "values": [-2, -1, 0, 1, 2], "grid": false, "titlePadding": 2, "minExtent": 28, "maxExtent": 28}},
       "text": {"field": "l"}}},
    {"data": {"values": [{"d": "1978-01-01", "v": -1, "l": "La-Niña Forte"}]},
     "mark": {"type": "text", "align": "left", "baseline": "bottom", "dy": -2, "fontSize": 11, "fontStyle": "italic", "fontWeight": "bold", "color": "#2a2aff"},
     "encoding": {
       "x": {"field": "d", "type": "temporal", "scale": {"type": "utc", "padding": 0, "domain": [{"year": 1977, "month": 9, "date": 2, "utc": true}, {"year": 2027, "month": 12, "date": 20, "utc": true}]},
             "axis": {"title": null, "labels": false, "grid": true, "values": [{"year":1980,"utc":true},{"year":1985,"utc":true},{"year":1990,"utc":true},{"year":1995,"utc":true},{"year":2000,"utc":true},{"year":2005,"utc":true},{"year":2010,"utc":true},{"year":2015,"utc":true},{"year":2020,"utc":true},{"year":2025,"utc":true}]}},
       "y": {"field": "v", "type": "quantitative", "scale": {"domain": [-2.2, 2.74], "nice": false}, "axis": {"title": "RONI3.4", "values": [-2, -1, 0, 1, 2], "grid": false, "titlePadding": 2, "minExtent": 28, "maxExtent": 28}},
       "text": {"field": "l"}}},
    {"data": {"values": [{"d": "1978-01-01", "v": -2, "l": "La Niña Muito Forte"}]},
     "mark": {"type": "text", "align": "left", "baseline": "bottom", "dy": -2, "fontSize": 11, "fontStyle": "italic", "fontWeight": "bold", "color": "#1a1a8c"},
     "encoding": {
       "x": {"field": "d", "type": "temporal", "scale": {"type": "utc", "padding": 0, "domain": [{"year": 1977, "month": 9, "date": 2, "utc": true}, {"year": 2027, "month": 12, "date": 20, "utc": true}]},
             "axis": {"title": null, "labels": false, "grid": true, "values": [{"year":1980,"utc":true},{"year":1985,"utc":true},{"year":1990,"utc":true},{"year":1995,"utc":true},{"year":2000,"utc":true},{"year":2005,"utc":true},{"year":2010,"utc":true},{"year":2015,"utc":true},{"year":2020,"utc":true},{"year":2025,"utc":true}]}},
       "y": {"field": "v", "type": "quantitative", "scale": {"domain": [-2.2, 2.74], "nice": false}, "axis": {"title": "RONI3.4", "values": [-2, -1, 0, 1, 2], "grid": false, "titlePadding": 2, "minExtent": 28, "maxExtent": 28}},
       "text": {"field": "l"}}}
  ]
},
{
  "width": 1101, "height": 219,
  "title": {"text": "Anomalia de Temperatura média (°C) - ref. 1991-2020  |  R = 0.0079, R² = 0.0001"},
  "layer": [
    {"data": {"name": "m"}, "mark": {"type": "bar", "width": 1.2, "opacity": 0.85},
     "encoding": {
       "x": {"field": "d", "type": "temporal", "scale": {"type": "utc", "padding": 0, "domain": [{"year": 1977, "month": 9, "date": 2, "utc": true}, {"year": 2027, "month": 12, "date": 20, "utc": true}]},
             "axis": {"title": null, "labels": false, "grid": true, "values": [{"year":1980,"utc":true},{"year":1985,"utc":true},{"year":1990,"utc":true},{"year":1995,"utc":true},{"year":2000,"utc":true},{"year":2005,"utc":true},{"year":2010,"utc":true},{"year":2015,"utc":true},{"year":2020,"utc":true},{"year":2025,"utc":true}]}},
       "y": {"field": "t", "type": "quantitative", "scale": {"domain": [-4.0, 4.2], "nice": false},
             "axis": {"title": "(°C)", "values": [-3, -2, -1, 0, 1, 2, 3, 4], "grid": true, "titlePadding": 11, "minExtent": 28, "maxExtent": 28}},
       "color": {"condition": {"test": "datum.t >= 0", "value": "#ff0000"}, "value": "#0000ff"}
     }},
    {"data": {"name": "b"}, "mark": {"type": "rect", "opacity": 0.3},
     "encoding": {
       "x": {"field": "s", "type": "temporal", "scale": {"type": "utc", "padding": 0, "domain": [{"year": 1977, "month": 9, "date": 2, "utc": true}, {"year": 2027, "month": 12, "date": 20, "utc": true}]},
             "axis": {"title": null, "labels": false, "grid": true, "values": [{"year":1980,"utc":true},{"year":1985,"utc":true},{"year":1990,"utc":true},{"year":1995,"utc":true},{"year":2000,"utc":true},{"year":2005,"utc":true},{"year":2010,"utc":true},{"year":2015,"utc":true},{"year":2020,"utc":true},{"year":2025,"utc":true}]}},
       "x2": {"field": "f"},
       "color": {"field": "k", "type": "nominal", "scale": {"domain": ["nino", "nina"], "range": ["#8b0000", "#00008b"]}, "legend": null}
     }},
    {"data": {"values": [{"v": 0}]}, "mark": {"type": "rule", "color": "#333333", "strokeDash": [3, 2], "strokeWidth": 0.9},
     "encoding": {"y": {"field": "v", "type": "quantitative", "scale": {"domain": [-4.0, 4.2], "nice": false}, "axis": {"title": "(°C)", "values": [-3, -2, -1, 0, 1, 2, 3, 4], "grid": true, "titlePadding": 11, "minExtent": 28, "maxExtent": 28}}}}
  ]
},
{
  "width": 1101, "height": 219,
  "title": {"text": "Anomalia de percentagem de precipitação (%) - ref. 1991-2020  |  R = 0.1005, R² = 0.0101"},
  "layer": [
    {"data": {"name": "m"}, "mark": {"type": "bar", "width": 1.2, "opacity": 0.88},
     "encoding": {
       "x": {"field": "d", "type": "temporal", "scale": {"type": "utc", "padding": 0, "domain": [{"year": 1977, "month": 9, "date": 2, "utc": true}, {"year": 2027, "month": 12, "date": 20, "utc": true}]},
             "axis": {"title": "Meses do ano", "format": "%Y", "grid": true, "titlePadding": 8, "values": [{"year":1980,"utc":true},{"year":1985,"utc":true},{"year":1990,"utc":true},{"year":1995,"utc":true},{"year":2000,"utc":true},{"year":2005,"utc":true},{"year":2010,"utc":true},{"year":2015,"utc":true},{"year":2020,"utc":true},{"year":2025,"utc":true}]}},
       "y": {"field": "p", "type": "quantitative", "scale": {"domain": [-193, 425], "nice": false},
             "axis": {"title": "(%)", "values": [-100, 0, 100, 200, 300, 400], "grid": true, "titlePadding": 16, "minExtent": 28, "maxExtent": 28}},
       "color": {"condition": {"test": "datum.p >= 0", "value": "#0000ff"}, "value": "#cd6a20"}
     }},
    {"data": {"name": "b"}, "mark": {"type": "rect", "opacity": 0.3},
     "encoding": {
       "x": {"field": "s", "type": "temporal", "scale": {"type": "utc", "padding": 0, "domain": [{"year": 1977, "month": 9, "date": 2, "utc": true}, {"year": 2027, "month": 12, "date": 20, "utc": true}]},
             "axis": {"title": "Meses do ano", "format": "%Y", "grid": true, "titlePadding": 8, "values": [{"year":1980,"utc":true},{"year":1985,"utc":true},{"year":1990,"utc":true},{"year":1995,"utc":true},{"year":2000,"utc":true},{"year":2005,"utc":true},{"year":2010,"utc":true},{"year":2015,"utc":true},{"year":2020,"utc":true},{"year":2025,"utc":true}]}},
       "x2": {"field": "f"},
       "color": {"field": "k", "type": "nominal", "scale": {"domain": ["nino", "nina"], "range": ["#8b0000", "#00008b"]}, "legend": null}
     }},
    {"data": {"values": [{"v": 0}]}, "mark": {"type": "rule", "color": "#333333", "strokeDash": [3, 2], "strokeWidth": 0.9},
     "encoding": {"y": {"field": "v", "type": "quantitative", "scale": {"domain": [-193, 425], "nice": false}, "axis": {"title": "(%)", "values": [-100, 0, 100, 200, 300, 400], "grid": true, "titlePadding": 16, "minExtent": 28, "maxExtent": 28}}}}
  ]
}
]
}
